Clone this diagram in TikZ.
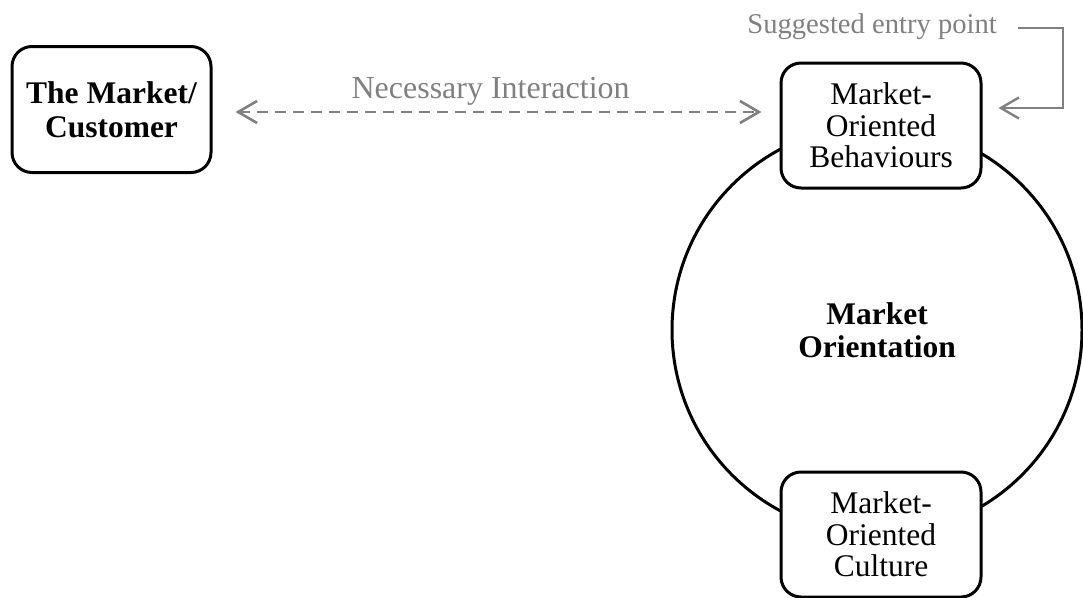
\documentclass[tikz,border=0pt]{standalone}
\usepackage{fontspec}
\setmainfont{Liberation Serif}
\usetikzlibrary{arrows.meta}
\definecolor{lgray}{HTML}{808080}
\tikzset{
    RB/.style ={rectangle, rounded corners=20pt, draw, line width=3pt, fill=white, minimum width=200pt, minimum height=125pt, align=center, font=\fontsize{31.5}{31.5}\selectfont},
    RB2/.style ={RB, minimum width=199pt, minimum height=126pt, font=\fontsize{31.5}{34}\selectfont\bfseries},
    CI/.style ={circle, draw, line width=3pt, minimum size=410pt, align=center, font=\fontsize{31.5}{33}\selectfont\bfseries},
    DA/.style ={draw=lgray, line width=2.6pt, dash pattern=on 11pt off 7pt, {Straight Barb[length=19pt,width=22pt]}-{Straight Barb[length=19pt,width=22pt]}},
    EA/.style ={draw=lgray, line width=2.4pt, -{Straight Barb[length=18pt,width=21pt]}},
    GL/.style ={text=lgray, inner sep=0pt, font=\fontsize{32}{32}\selectfont},
    GL2/.style ={GL, font=\fontsize{28.6}{29}\selectfont}}

\begin{document}
\begin{tikzpicture}[x=1pt,y=-1pt]
    \useasboundingbox (0,0) rectangle (1083,597);
    \node[CI] (mo) at (877,330) {Market\\Orientation};
    \node[RB2] (cust) at (111.5,109.5) {The Market/\\Customer};
    \node[RB] (mob) at (881,125.5) {Market-\\Oriented\\Behaviours};
    \node[RB] (moc) at (881,534.5) {Market-\\Oriented\\Culture};
    \node[GL2, anchor=base east] (entry) at (997,33) {Suggested entry point};
    \draw[DA] ([xshift=23pt]cust.east |- 0,112) -- ([xshift=-18pt]mob.west |- 0,112)
        node[GL, pos=0.485, above=5pt] (inter) {Necessary Interaction};
    \draw[EA] ([xshift=21pt]entry.east |- 0,28) -- (1063,28) |- ([xshift=16pt]mob.east |- 0,108);
\end{tikzpicture}
\end{document}
